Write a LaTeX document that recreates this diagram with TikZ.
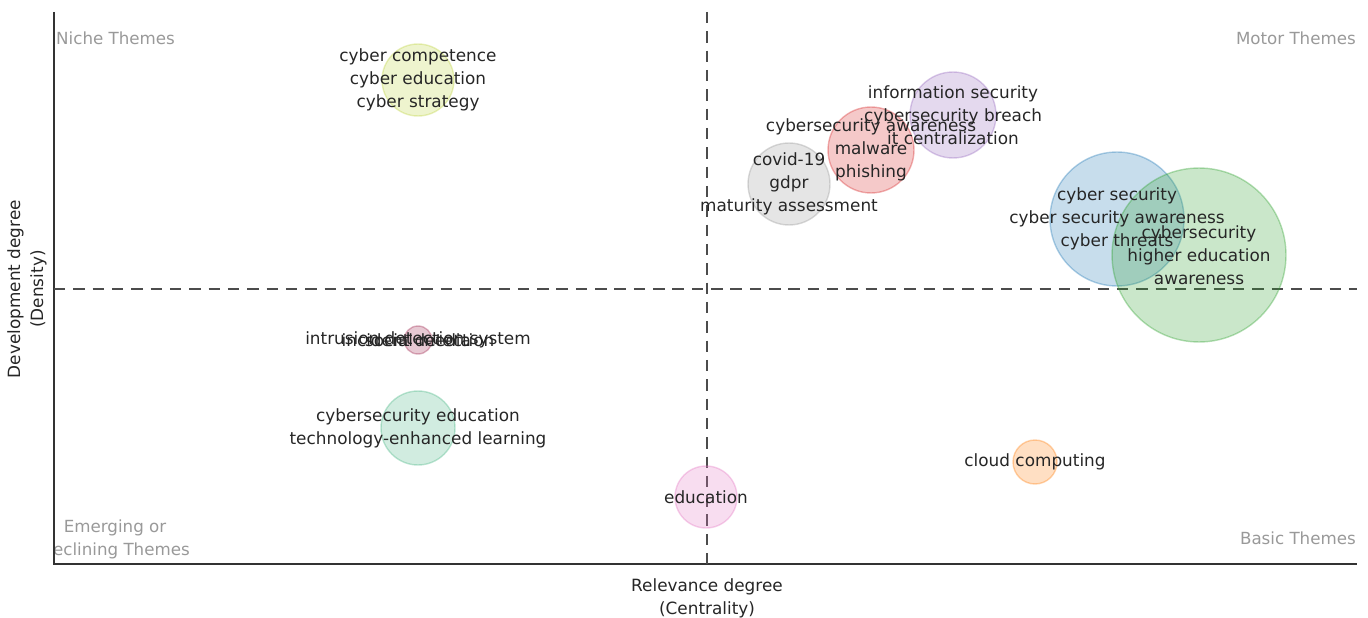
\documentclass[tikz,border=0pt]{standalone}
\usepackage{fontspec}
\setmainfont{DejaVu Sans}
\usepackage{xcolor}
\usetikzlibrary{positioning}

\definecolor{bblue}{RGB}{31,119,180}
\definecolor{bgreen}{RGB}{44,160,44}
\definecolor{bred}{RGB}{214,39,40}
\definecolor{bpurple}{RGB}{148,103,189}
\definecolor{bgrey}{RGB}{150,150,150}
\definecolor{bpink}{RGB}{227,119,194}
\definecolor{borange}{RGB}{255,127,14}
\definecolor{bolive}{RGB}{188,210,60}
\definecolor{bteal}{RGB}{70,180,130}
\definecolor{bwine}{RGB}{160,40,80}

\begin{document}
\begin{tikzpicture}[
    x=0.02cm, y=-0.02cm,
    bubble/.style={circle, draw=#1, fill=#1, fill opacity=0.25, draw opacity=0.35, line width=0.8pt, inner sep=0pt},
    theme/.style={align=center, font=\fontsize{9.6}{13}\selectfont, text=black!85},
    corner/.style={align=center, font=\fontsize{9.5}{13}\selectfont, text=black!40},
    axtitle/.style={align=center, font=\fontsize{9.6}{13}\selectfont, text=black!85},
    quadline/.style={dashed, dash pattern=on 6.5pt off 4.5pt, line width=1.1pt, black!70}
]
    \useasboundingbox (0,0) rectangle (1368,618);

    % Axes
    \draw[black!80, line width=0.6pt] (54,12) -- (54,564) -- (1357,564);

    % Quadrant dividers
    \draw[quadline] (707,12) -- (707,564);
    \draw[quadline] (54,289) -- (1357,289);

    % Bubbles
    \node[bubble=bolive, minimum size=1.44cm] (competence) at (418,80) {};
    \node[bubble=bpurple, minimum size=1.72cm] (infosec) at (953,115) {};
    \node[bubble=bred, minimum size=1.72cm] (malware) at (871,150) {};
    \node[bubble=bgrey, minimum size=1.64cm] (covid) at (789,184) {};
    \node[bubble=bblue, minimum size=2.68cm] (cybersec) at (1117,219) {};
    \node[bubble=bgreen, minimum size=3.48cm] (highered) at (1199,255) {};
    \node[bubble=bwine, minimum size=0.56cm] (intrusion) at (418,340) {};
    \node[bubble=bteal, minimum size=1.48cm] (csedu) at (418,428) {};
    \node[bubble=bpink, minimum size=1.24cm] (education) at (706,497) {};
    \node[bubble=borange, minimum size=0.88cm] (cloud) at (1035,462) {};

    % Bubble labels
    \node[theme] (competence-t) at (competence) {cyber competence\\cyber education\\cyber strategy};
    \node[theme] (infosec-t) at (infosec) {information security\\cybersecurity breach\\it centralization};
    \node[theme] (malware-t) at (malware) {cybersecurity awareness\\malware\\phishing};
    \node[theme] (covid-t) at (covid) {covid-19\\gdpr\\maturity assessment};
    \node[theme] (cybersec-t) at (cybersec) {cyber security\\cyber security awareness\\cyber threats};
    \node[theme] (highered-t) at (highered) {cybersecurity\\higher education\\awareness};
    \node[theme] (intrusion-t) at (intrusion) {intrusion detection system};
    \node[theme] (incident-t) at (intrusion) {incident detection};
    \node[theme] (social-t) at (intrusion) {social media};
    \node[theme] (csedu-t) at (csedu) {cybersecurity education\\technology-enhanced learning};
    \node[theme] (education-t) at (education) {education};
    \node[theme] (cloud-t) at (cloud) {cloud computing};

    % Quadrant names
    \node[corner, anchor=west] (niche) at (50,38) {Niche Themes};
    \node[corner, anchor=east] (motor) at (1362,38) {Motor Themes};
    \node[corner, anchor=east] (basic) at (1362,538) {Basic Themes};
    \begin{scope}
        \clip (55,0) rectangle (1368,618);
        \node[corner] (emerging) at (115,539) {Emerging or\\Declining Themes};
    \end{scope}

    % Axis titles
    \node[axtitle] (xtitle) at (707,598) {Relevance degree\\(Centrality)};
    \node[axtitle, rotate=90] (ytitle) at (27,289) {Development degree\\(Density)};
\end{tikzpicture}
\end{document}
